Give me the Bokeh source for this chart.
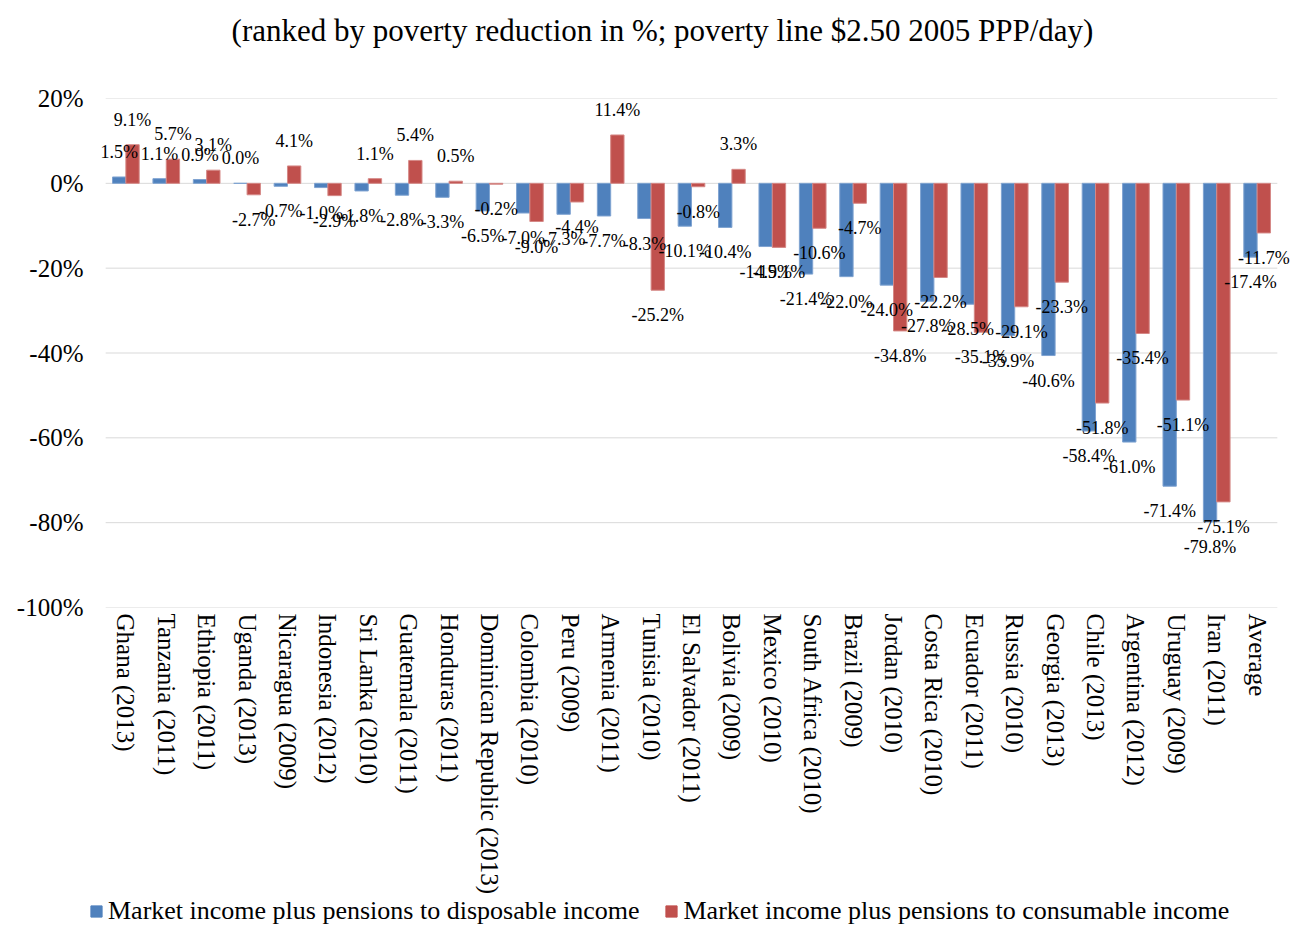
import math
from bokeh.plotting import figure
from bokeh.layouts import column
from bokeh.models import (ColumnDataSource, Range1d, FactorRange, Legend, LegendItem,
                          FixedTicker, PrintfTickFormatter)
from bokeh.transform import dodge
from bokeh.core.properties import value
from bokeh.embed import file_html
from bokeh.resources import INLINE

countries = ["Ghana (2013)", "Tanzania (2011)", "Ethiopia (2011)", "Uganda (2013)",
             "Nicaragua (2009)", "Indonesia (2012)", "Sri Lanka (2010)", "Guatemala (2011)",
             "Honduras (2011)", "Dominican Republic (2013)", "Colombia (2010)", "Peru (2009)",
             "Armenia (2011)", "Tunisia (2010)", "El Salvador (2011)", "Bolivia (2009)",
             "Mexico (2010)", "South Africa (2010)", "Brazil (2009)", "Jordan (2010)",
             "Costa Rica (2010)", "Ecuador (2011)", "Russia (2010)", "Georgia (2013)",
             "Chile (2013)", "Argentina (2012)", "Uruguay (2009)", "Iran (2011)", "Average"]
disposable = [1.5, 1.1, 0.9, 0.0, -0.7, -1.0, -1.8, -2.8, -3.3, -6.5, -7.0, -7.3, -7.7, -8.3,
              -10.1, -10.4, -14.9, -21.4, -22.0, -24.0, -27.8, -28.5, -35.9, -40.6, -58.4,
              -61.0, -71.4, -79.8, -17.4]
consumable = [9.1, 5.7, 3.1, -2.7, 4.1, -2.9, 1.1, 5.4, 0.5, -0.2, -9.0, -4.4, 11.4, -25.2,
              -0.8, 3.3, -15.1, -10.6, -4.7, -34.8, -22.2, -35.1, -29.1, -23.3, -51.8,
              -35.4, -51.1, -75.1, -11.7]
y_ticks = [20, 0, -20, -40, -60, -80, -100]
series_names = ["Market income plus pensions to disposable income",
                "Market income plus pensions to consumable income"]
title_text = "(ranked by poverty reduction in %; poverty line $2.50 2005 PPP/day)"

FONT = "Liberation Serif"
BLUE = "#4F81BD"
RED = "#C0504D"
GRID = "#d9d9d9"
LABEL_OFF = 25
W = 1309
LEFT = 89
RIGHT = 16


def strip(height, y_end):
    fig = figure(width=W, height=height, x_range=Range1d(LEFT, W - RIGHT),
                 y_range=Range1d(0, y_end), output_backend="svg", toolbar_location=None,
                 x_axis_location=None, y_axis_location=None,
                 min_border_left=LEFT, min_border_right=RIGHT,
                 min_border_top=0, min_border_bottom=0)
    fig.outline_line_color = None
    fig.grid.visible = False
    return fig


# ---- title strip ----
p0 = strip(52, 52)
p0.text(x=[662], y=[22], text=[title_text], text_font=value(FONT), text_font_size="31px",
        text_align="center", text_baseline="middle", text_color="#000000")

# ---- main chart ----
src = ColumnDataSource(dict(
    country=countries,
    disp=disposable,
    cons=consumable,
    disp_lbl=[f"{v:.1f}%" for v in disposable],
    cons_lbl=[f"{v:.1f}%" for v in consumable],
    disp_off=[-LABEL_OFF if v >= 0 else LABEL_OFF for v in disposable],
    cons_off=[-LABEL_OFF if v >= 0 else LABEL_OFF for v in consumable],
))
grid_src = ColumnDataSource(dict(
    y=y_ticks,
    first=[countries[0]] * len(y_ticks),
    last=[countries[-1]] * len(y_ticks),
))

xr = FactorRange(*countries, range_padding=0.4, range_padding_units="absolute")
p = figure(x_range=xr, y_range=Range1d(-100, 20),
           width=W, height=844, output_backend="svg", toolbar_location=None,
           min_border_left=LEFT, min_border_right=RIGHT, min_border_top=46, min_border_bottom=288)
p.outline_line_color = None
p.xgrid.grid_line_color = None
p.ygrid.grid_line_color = None

p.segment(x0=dodge("first", -0.5, range=xr), x1=dodge("last", 0.5, range=xr),
          y0="y", y1="y", source=grid_src, line_color=GRID, line_width=1)

r1 = p.vbar(x=dodge("country", -0.165, range=xr), top="disp", bottom=0, width=0.33,
            source=src, fill_color=BLUE, line_color="#7fa3d1", line_width=1)
r2 = p.vbar(x=dodge("country", 0.165, range=xr), top="cons", bottom=0, width=0.33,
            source=src, fill_color=RED, line_color="#d58886", line_width=1)

p.text(x=dodge("country", -0.165, range=xr), y="disp", text="disp_lbl", y_offset="disp_off",
       source=src, text_font=value(FONT), text_font_size="18px", text_align="center",
       text_baseline="middle", text_color="#000000")
p.text(x=dodge("country", 0.165, range=xr), y="cons", text="cons_lbl", y_offset="cons_off",
       source=src, text_font=value(FONT), text_font_size="18px", text_align="center",
       text_baseline="middle", text_color="#000000")

p.yaxis.ticker = FixedTicker(ticks=y_ticks)
p.yaxis.formatter = PrintfTickFormatter(format="%d%%")
p.yaxis.axis_line_color = None
p.yaxis.major_tick_line_color = None
p.yaxis.minor_tick_line_color = None
p.yaxis.major_label_standoff = 0
p.yaxis.major_label_text_font = FONT
p.yaxis.major_label_text_font_size = "25px"
p.yaxis.major_label_text_color = "#000000"

p.xaxis.axis_line_color = None
p.xaxis.major_tick_line_color = None
p.xaxis.minor_tick_line_color = None
p.xaxis.major_label_orientation = -math.pi / 2
p.xaxis.major_label_standoff = 0
p.xaxis.major_label_text_font = FONT
p.xaxis.major_label_text_font_size = "25px"
p.xaxis.major_label_text_color = "#000000"

# ---- legend strip ----
p2 = strip(30, 1)
d1 = p2.vbar(x=[0], top=[0], width=1, fill_color=BLUE, line_color=BLUE)
d2 = p2.vbar(x=[0], top=[0], width=1, fill_color=RED, line_color=RED)
legend = Legend(items=[LegendItem(label=series_names[0], renderers=[d1]),
                       LegendItem(label=series_names[1], renderers=[d2])],
                orientation="horizontal", location=(0, 0))
legend.border_line_color = None
legend.background_fill_alpha = 0
legend.padding = 0
legend.margin = 0
legend.spacing = 25
legend.glyph_width = 14
legend.glyph_height = 14
legend.label_standoff = 5
legend.label_text_font = FONT
legend.label_text_font_size = "26px"
legend.label_text_color = "#000000"
p2.add_layout(legend, "center")

layout = column(p0, p, p2, spacing=0)
open("out.html", "w").write(file_html(layout, INLINE))
